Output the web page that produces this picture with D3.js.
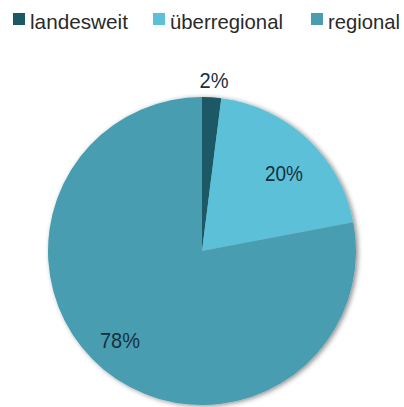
<!DOCTYPE html>
<html><head><meta charset="utf-8">
<script src="https://cdn.jsdelivr.net/npm/d3@7"></script>
<style>body{margin:0;background:#fff}svg{display:block}</style>
</head><body>
<svg id="c" width="404" height="407"></svg>
<script>
const categories = ["landesweit", "überregional", "regional"];
const values = [2, 20, 78];
const labels = ["2%", "20%", "78%"];
const colors = ["#1c5966", "#5cc0d8", "#4a9db1"];

const svg = d3.select("#c");
const cx = 202, cy = 251, r = 154;
const FONT = "Liberation Sans, Arial, sans-serif";

const defs = svg.append("defs");
const f = defs.append("filter").attr("id","sh").attr("x","-20%").attr("y","-20%").attr("width","140%").attr("height","140%");
f.append("feDropShadow").attr("dx",2).attr("dy",1).attr("stdDeviation",2.5).attr("flood-color","#000").attr("flood-opacity",0.45);

const pie = d3.pie().sort(null).value(d => d)(values);
const arc = d3.arc().innerRadius(0).outerRadius(r);
const g = svg.append("g").attr("transform", `translate(${cx},${cy})`);
g.append("g").attr("filter","url(#sh)").selectAll("path").data(pie).join("path")
  .attr("d", arc).attr("fill", (d,i) => colors[i]);

const labelPos = [[12, -171], [82, -78], [-82, 89]];
const labelW = [29, 38, 40];
g.selectAll("text.lbl").data(pie).join("text").attr("class","lbl")
  .attr("x", (d,i) => labelPos[i][0]).attr("y", (d,i) => labelPos[i][1])
  .attr("text-anchor","middle").attr("dominant-baseline","central")
  .attr("font-family",FONT).attr("font-size",22)
  .attr("textLength",(d,i) => labelW[i]).attr("lengthAdjust","spacingAndGlyphs")
  .attr("fill","#17303d").text((d,i) => labels[i]);

// legend
const legX = [13, 153, 311];
const legW = [98, 113, 72];
const lg = svg.append("g");
categories.forEach((c,i) => {
  lg.append("rect").attr("x", legX[i]).attr("y", 13).attr("width", 12).attr("height", 12).attr("fill", colors[i]);
  lg.append("text").attr("x", legX[i] + 17).attr("y", 29)
    .attr("font-family",FONT).attr("font-size",21)
    .attr("textLength",legW[i]).attr("lengthAdjust","spacingAndGlyphs")
    .attr("fill","#2a2a2a").text(c);
});
</script>
</body></html>
